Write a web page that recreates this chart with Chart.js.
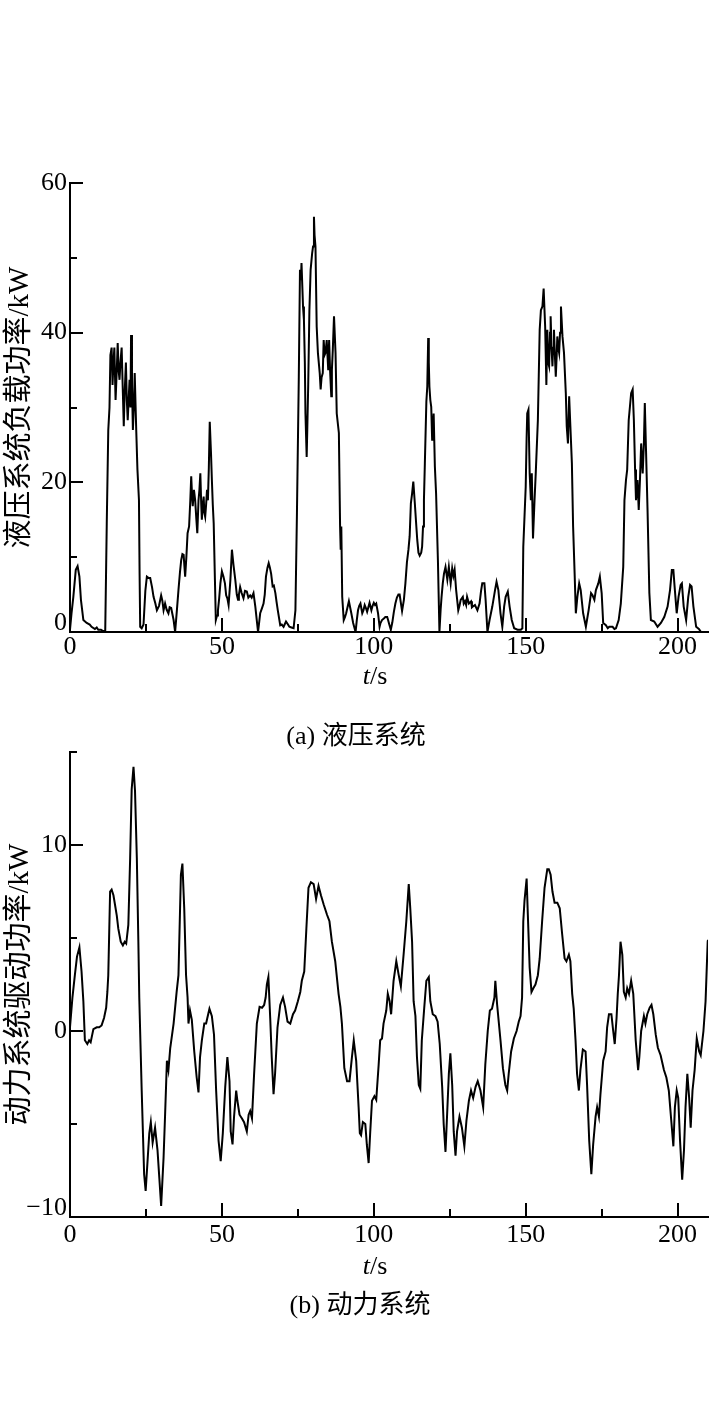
<!DOCTYPE html>
<html><head><meta charset="utf-8">
<script src="https://cdn.jsdelivr.net/npm/chart.js@4.4.1/dist/chart.umd.min.js"></script>
<style>
html,body{margin:0;padding:0;background:#fff;}
#wrap{position:relative;width:709px;height:1417px;overflow:hidden;background:#fff;}
canvas{position:absolute;left:0;}
.lbl{position:absolute;font-family:"Liberation Serif","Noto Sans CJK SC",serif;font-size:26px;color:#000;white-space:nowrap;transform:translate(-50%,-50%);line-height:1;}
</style></head>
<body><div id="wrap">
<canvas id="c1" width="709" height="700" style="top:0px"></canvas>
<canvas id="c2" width="709" height="590" style="top:700px"></canvas>
<div class="lbl" style="left:375px;top:676px"><i>t</i>/s</div>
<div class="lbl" style="left:356px;top:736px">(a) 液压系统</div>
<div class="lbl" style="left:375px;top:1266px"><i>t</i>/s</div>
<div class="lbl" style="left:360px;top:1305px">(b) 动力系统</div>
</div>
<script>
// ---- Data: (a) hydraulic system load power, kW ----
const hydT = [0,0.5,1.1,1.9,2.5,3.1,3.6,4.4,5.5,6.5,7.1,8.2,8.8,9.3,10.2,11,11.6,12.1,12.6,13.0,13.3,13.7,14.0,14.3,14.6,15.0,15.4,15.7,16.0,16.3,16.6,17.0,17.4,17.7,18.0,18.4,18.7,19.0,19.3,19.6,19.9,20.1,20.4,20.7,21.0,21.3,21.6,21.8,22.2,22.7,22.9,23.1,23.6,24.2,24.8,25.3,25.9,26.4,27.0,27.5,28.1,28.6,29.3,30,30.4,30.8,31.3,31.8,32.4,32.8,33.3,33.7,34.1,34.6,35.2,35.7,36.2,36.6,37.0,37.4,37.9,38.3,38.7,39.2,39.6,39.9,40.2,40.4,40.8,41.2,41.6,41.9,42.3,42.6,42.9,43.2,43.4,43.7,44.0,44.2,44.5,44.8,45.1,45.4,45.7,46.0,46.4,46.7,47.0,47.3,47.7,48.0,48.4,48.7,49.1,49.5,50,50.5,51.0,51.4,51.8,52.2,52.8,53.3,53.8,54.4,54.9,55.3,55.6,56,56.5,57.1,57.6,58.2,58.7,59.3,59.8,60.4,61,61.5,61.9,62.6,63.2,63.7,64.1,64.5,65.0,65.4,65.8,66.2,66.7,67.1,67.6,68,68.4,69.2,69.7,70.3,71.1,71.6,72.2,72.9,73.6,74.2,74.7,75.3,75.7,76.0,76.2,76.7,77.0,77.3,77.5,77.9,78.1,78.4,78.8,79.2,79.7,80,80.3,80.5,80.8,81.2,81.6,82.2,82.5,82.8,83.2,83.5,83.8,84.1,84.5,85,85.3,85.6,86,86.2,86.5,86.9,87.4,87.8,88.5,88.9,89.1,89.3,89.6,90.1,90.5,90.9,91.4,91.8,92.2,92.6,93.2,94,94.4,94.8,95.2,95.6,96.2,96.6,97,97.4,97.8,98.2,98.6,99.2,99.6,100,100.4,100.8,101.4,101.9,102.2,102.7,103.3,103.8,104.4,104.7,105.1,105.6,106.1,106.6,107.1,107.6,108.1,108.5,109.3,109.9,110.4,110.9,111.4,111.8,112.2,112.6,113,113.5,114,114.3,114.7,115.1,115.6,115.9,116.2,116.5,116.8,117.1,117.3,117.6,117.9,118.1,118.3,118.6,118.9,119.2,119.4,119.7,120.1,120.5,121.1,121.6,122.0,122.3,122.7,123.1,123.6,124.2,124.7,125.3,125.8,126.2,126.6,127.1,127.8,128.2,128.6,129.3,129.6,130,130.4,130.7,131.3,132,132.3,132.6,133.3,134.1,134.8,135.3,135.7,136.4,136.8,137.4,138.1,139,139.9,140.4,141,141.7,142.3,142.9,143.4,144.1,144.7,145.4,146.2,147.3,148.4,148.9,149.2,149.6,150,150.3,150.5,150.9,151.3,151.7,152,152.4,152.9,153.3,154,154.6,155,155.5,155.9,156.4,156.8,157.1,157.4,157.7,158.0,158.2,158.5,158.8,159.0,159.3,159.6,159.9,160.2,160.4,160.7,161,161.3,161.6,162.1,162.6,163.2,163.5,163.9,164.3,164.7,165.2,165.6,166.1,166.5,167,167.6,168.1,168.9,169.8,170.7,171.5,172,172.6,173.1,173.9,174.4,175,175.5,176.4,177,177.5,178.6,179.2,179.7,180.6,181.3,182.1,182.5,183,183.4,183.9,184.3,184.7,185.2,185.6,186,186.3,186.8,187.2,187.6,188,188.5,188.9,189.2,189.6,190.1,190.7,191.2,192.3,193.4,194.5,195.6,196.7,197.5,198.1,198.6,199,199.7,200.3,201,201.4,202,202.8,203.5,204.1,204.6,205.2,206.1,207,207.7,208.5];
const hydP = [0.3,2.5,4.7,8.3,8.8,7.4,4.3,1.6,1.2,1.0,0.7,0.4,0.6,0.3,0.3,0.1,0.2,14.5,27,30,37,38,33,36,38,31,35,38.6,35,33.7,36,38,32,27.5,32,36,31,28.3,31,33.7,30,39.7,33,27,30,34.6,30,27,21.7,17.6,8,0.7,0.5,1.0,5.5,7.4,7.2,7.2,6,4.7,3.8,2.9,3.5,4.9,4.2,2.9,3.8,3.0,2.5,3.3,3.2,2.4,1.6,0,3,5.6,8,9.6,10.4,10.3,7.4,10,13.2,14.1,17.6,20.8,18,16.8,19,17.6,15,13.2,17.6,19,21.2,17,15,17,18.1,16,15.4,17,19,17.6,22,28.1,24,20.3,17,14.5,7,1.6,2.2,2.9,4.5,6.5,8.1,7.4,6.5,4.9,4.5,3.6,7,11,9,7,5,4.3,5,6,5.2,4.5,5.5,5.4,4.6,4.9,4.6,5.2,3.4,1.5,0,2.5,3.2,3.8,5,7.4,8.6,9.2,8.6,7.8,6.1,6.2,5.2,4,2.9,0.9,1.0,0.7,1.4,1.1,0.7,0.6,0.5,2.9,15.9,33.7,48.4,47,49.3,43.5,41.7,36,29.2,23.4,27,32.8,43,48.4,50.6,51.5,55.5,53,51.5,40.8,37.3,34.6,32.4,34,34.6,39,37,37.3,39,35,39,35,31.5,35,37.7,42.2,37.3,29.2,26.6,14.1,11,14.1,4.7,1.6,2.0,2.5,3.4,4.1,3.3,2.5,1.2,0,1.6,2.9,3.5,3.8,2.5,2.9,3.6,3.2,2.7,3.3,3.9,2.9,3.5,3.9,3.6,3.8,2.5,0.7,1.2,1.6,1.8,2.0,2.0,1.6,1.0,0.3,1.3,2.7,3.8,4.6,5.0,5.0,2.8,4.3,6.5,9.3,11,12.8,17.2,18.5,20.1,17.2,14.1,12.3,10.6,10.2,10.6,11.4,14.1,17.6,22.5,27.5,30.8,32.8,39.3,36,32.8,31,30.1,25.7,27,29.2,22.1,18.5,9.6,0,3,4.7,6.5,7.8,8.7,7,8.7,6.5,8.5,7.5,8.3,5.6,2.9,3.5,4.3,4.7,3.8,4.1,3.6,4.7,3.8,4.1,3.3,3.4,3.6,2.9,3.8,5.5,6.5,6.5,4.3,0,1.6,3.4,5.6,6.7,5.6,2.5,0.7,3.4,4.7,5.4,3.4,1.6,0.5,0.3,0.3,0.5,11.4,15.4,19.4,26,29.2,29.7,21.2,17.6,21.2,12.5,17.6,21.2,28.3,40.4,43,43.5,45.9,40.8,33,40.4,36,35.5,40,42.2,38,35.5,38,40.4,37,34.1,37,39.5,38,37.3,40,43.5,39.5,37.3,31.9,27.5,25.2,31.5,27.5,22.5,14.1,7.8,2.5,4.7,6.5,5.6,2.5,0.7,2.9,5.2,4.9,4.3,5.6,6.5,7.4,5.2,1.2,0.9,0.5,0.7,0.7,0.4,0.5,1.6,3.8,8.7,17.6,20.3,21.7,28.3,30.1,31.9,32.4,28.3,21.7,17.6,20.3,16.3,20.3,25.2,21.2,25.2,30.6,24.3,16.3,5.2,1.6,1.4,0.7,1.2,2.0,3.4,5.6,8.3,8.3,6.1,2.5,4.7,6.3,6.5,3.4,1.6,4.7,6.3,6.1,3.4,0.7,0.4,0,0];

// ---- Data: (b) power system drive power, kW ----
const drvT = [0,0.8,1.6,2.3,3.1,3.8,4.4,4.9,5.7,6.3,6.8,7.7,8.8,9.6,10.4,11.2,11.9,12.3,12.6,13.2,13.7,14.3,14.8,15.4,15.9,16.7,17.4,18.0,18.5,19.2,19.8,20.3,20.9,21.4,22,22.5,22.8,23.6,24.4,24.9,25.6,26.1,26.6,27.2,28,28.8,29.4,30,30.8,31.3,31.9,32.4,33,34.1,35.1,35.7,36.5,37,37.6,38.2,38.7,39,39.5,40.1,40.9,41.7,42.3,42.8,43.4,44.2,44.8,45.2,45.9,46.7,47.4,48.1,48.9,49.6,50.3,51.1,51.8,52.5,52.9,53.5,54,54.7,55.1,55.8,56.6,57.3,58.2,58.8,59.3,59.9,60.6,61.5,62.4,63.2,63.9,64.4,64.8,65.3,65.9,66.4,67,67.5,68.3,69.2,70.1,70.8,71.6,72.5,73.4,74.1,75,75.8,76.3,77.1,77.8,78.5,79.3,80.2,81,81.8,82.6,83.5,84.6,85.4,86.2,87.3,88.4,89.0,89.5,90.3,91.2,92,92.8,93.4,94.2,95,95.4,95.8,96.4,97.2,97.7,98.3,98.8,99.4,100.2,100.8,101.6,102.1,102.7,103.2,104.1,104.6,105.2,105.7,106.5,107.4,108.2,108.9,109.8,110.7,111.5,112,112.6,113.1,113.7,114.2,114.8,115.3,115.8,116.6,117.3,118.1,118.6,119.4,120.3,121,121.7,122.5,123,123.6,124.1,124.7,125.2,125.8,126.3,126.9,127.4,128.2,129,129.8,130.5,131.3,132,132.7,133.5,134.2,135.1,136,136.7,137.5,138.2,138.9,139.7,140,140.6,141.7,142.5,143.3,143.9,144.4,145.2,146.1,147,147.7,148.3,148.8,149.2,149.6,150.3,150.7,151.3,151.9,152.5,153.2,154,154.6,155.4,156.2,157.1,157.6,158.2,158.8,159.5,160.4,161.2,162,162.8,163.4,164.2,164.7,165.3,165.8,166.4,166.9,167.5,168,168.8,169.7,170.2,170.9,171.6,172.2,173,173.5,174.1,174.6,175.5,176.3,176.8,177.4,178.2,178.8,179.3,179.9,180.3,180.7,181.2,181.8,182.3,182.9,183.4,184,184.7,185.4,186.2,187,187.4,188,188.9,189.4,190,190.8,191.4,192,192.8,193.5,194.4,195.5,196.3,197.1,197.9,198.6,199.1,199.7,200.2,200.8,201.5,202.1,202.6,203.2,203.8,204.3,204.9,205.6,206.3,207.1,207.6,208.5,209.2,209.9,210];
const drvP = [0.2,1.8,3,4,4.5,3.2,1.6,-0.5,-0.7,-0.5,-0.6,0.1,0.2,0.2,0.3,0.7,1.25,2.1,3,7.5,7.6,7.3,6.8,6.2,5.5,4.8,4.6,4.8,4.7,5.7,9.3,13,14.2,12.9,9.3,4.8,1.8,-3.2,-7.7,-8.6,-6.8,-5.5,-4.9,-6,-5.2,-6.4,-7.9,-9.4,-6.8,-4.5,-1.6,-2.1,-0.9,0.4,2.1,3,8.4,9,6.6,3,1.8,0.4,1.1,0.6,-1.1,-2.5,-3.3,-1.4,-0.5,0.4,0.4,0.7,1.2,0.8,-0.2,-3.2,-5.9,-7.0,-5.5,-3,-1.4,-2.7,-5.4,-6.1,-4.6,-3.2,-3.75,-4.5,-4.7,-4.9,-5.4,-4.5,-4.3,-4.7,-2.3,0.4,1.3,1.25,1.4,1.8,2.5,2.9,0.7,-1.4,-3.4,-2.3,0.2,1.4,1.8,1.3,0.5,0.4,0.9,1.1,1.6,2.1,2.7,3.2,5.5,7.7,8,7.9,7.1,7.8,7.3,6.8,6.25,5.9,4.8,3.75,2.0,1.3,0.4,-2,-2.7,-2.7,-1.4,-0.5,-1.6,-4.1,-5.5,-5.6,-4.9,-5,-6.1,-7.1,-5.5,-3.75,-3.5,-3.7,-1.8,-0.5,-0.4,0.4,1.1,2,1.6,0.9,2.7,3.75,3,2.4,4.1,5.9,7.9,6.6,4.8,1.6,0.8,-1.4,-2.9,-3.1,-0.5,1.25,2.7,2.9,1.6,0.9,0.8,0.5,-0.7,-3,-5,-6.5,-4.6,-2.3,-1.2,-2.9,-5.4,-6.7,-5.4,-4.6,-5.2,-6.2,-4.8,-3.75,-3.2,-3.6,-3,-2.7,-3.2,-4.1,-1.8,0,1.1,1.2,1.8,2.7,1.4,-0.5,-2,-2.9,-3.2,-2.3,-1.1,-0.4,0,0.5,0.8,1.8,5.9,7,8.2,6.25,3.4,2.1,2.3,2.5,3,3.9,5.9,7.7,8.7,8.7,8.4,7.5,6.9,6.9,6.6,5.2,3.9,3.75,4.1,3.75,2,1.2,-0.5,-2.3,-3.2,-2.1,-1,-1.1,-2.9,-5.9,-7.7,-6.1,-4.6,-4.1,-4.6,-3.4,-1.6,-1.1,0.2,0.9,0.9,0,-0.7,0.7,2,3,4.8,4.1,2.1,1.8,2.3,2,2.7,2,-0.5,-2.1,-1.4,0,0.8,0.4,0.9,1.25,1.4,0.9,-0.2,-0.9,-1.3,-2.1,-2.5,-3.2,-4.8,-6.2,-4.1,-3.2,-3.6,-5.9,-8,-6.4,-4.1,-2.3,-3.6,-5.2,-3.2,-2.1,-0.4,-1.1,-1.3,0,1.6,4.8,4.9];

// ---- Axis tick values ----
const xTicks = [0, 50, 100, 150, 200];
const xMinor = [25, 75, 125, 175];
const hydYTicks = [0, 20, 40, 60];
const hydYMinor = [10, 30, 50];
const drvYTicks = [-10, 0, 10];
const drvYMinor = [-5, 5, 15];

const FONT = '"Liberation Serif","Noto Sans CJK SC",serif';

const innerTicks = {
  id: 'innerTicks',
  afterDatasetsDraw(chart, args, o) {
    const ctx = chart.ctx, ca = chart.chartArea;
    const xs = chart.scales.x, ys = chart.scales.y;
    ctx.save();
    ctx.strokeStyle = '#000'; ctx.lineWidth = 2; ctx.lineCap = 'butt';
    const seg = (x1, y1, x2, y2) => { ctx.beginPath(); ctx.moveTo(x1, y1); ctx.lineTo(x2, y2); ctx.stroke(); };
    o.xMajor.forEach(v => { if (v === xs.min) return; const p = Math.round(xs.getPixelForValue(v)); seg(p, ca.bottom, p, ca.bottom - o.xMajorLen); });
    o.xMinor.forEach(v => { const p = Math.round(xs.getPixelForValue(v)); seg(p, ca.bottom, p, ca.bottom - o.xMinorLen); });
    o.yMajor.forEach(v => { if (v === ys.min) return; const p = Math.round(ys.getPixelForValue(v)); seg(ca.left, p, ca.left + o.yMajorLen, p); });
    o.yMinor.forEach(v => { const p = Math.round(ys.getPixelForValue(v)); seg(ca.left, p, ca.left + o.yMinorLen, p); });
    ctx.restore();
  }
};

function fmt(v) { return v < 0 ? '\u2212' + Math.abs(v) : String(v); }

function makeChart(id, T, P, cfg) {
  const pts = T.map((t, i) => ({ x: t, y: P[i] }));
  return new Chart(document.getElementById(id), {
    type: 'line',
    data: { datasets: [{ data: pts, borderColor: '#000', borderWidth: 2, pointRadius: 0, tension: 0, fill: false }] },
    options: {
      responsive: false, animation: false, events: [],
      layout: { padding: { top: cfg.padTop, left: 0, right: 1, bottom: 0 } },
      plugins: { legend: { display: false }, tooltip: { enabled: false },
        innerTicks: { xMajor: xTicks, xMinor: xMinor, yMajor: cfg.yTicks, yMinor: cfg.yMinor, xMajorLen: 14, xMinorLen: 8, yMajorLen: 13, yMinorLen: 7 } },
      scales: {
        x: {
          type: 'linear', min: 0, max: 210,
          grid: { display: false, drawTicks: false },
          border: { display: true, color: '#000', width: 2 },
          afterBuildTicks: s => { s.ticks = xTicks.map(v => ({ value: v })); },
          afterFit: s => { s.height = cfg.xHeight; },
          ticks: { color: '#000', padding: cfg.xPad, maxRotation: 0, autoSkip: false, font: { family: FONT, size: 26, lineHeight: 1 } }
        },
        y: {
          type: 'linear', min: cfg.yMin, max: cfg.yMax,
          grid: { display: false, drawTicks: false },
          border: { display: true, color: '#000', width: 2 },
          afterBuildTicks: s => { s.ticks = cfg.yTicks.map(v => ({ value: v })); },
          afterFit: s => { s.width = 70; },
          ticks: {
            color: '#000', padding: 3, autoSkip: false,
            // lowest label sits a little above the axis corner, as in the reference
            callback: v => (v === cfg.yMin ? [fmt(v), ''] : fmt(v)),
            font: c => ({ family: FONT, size: 26, lineHeight: (c.tick && c.tick.value === cfg.yMin) ? '18px' : 1 })
          },
          title: { display: true, text: cfg.yTitle, color: '#000', padding: { top: 6, bottom: 0 }, font: { family: FONT, size: 29, lineHeight: 1 } }
        }
      }
    },
    plugins: [innerTicks]
  });
}

makeChart('c1', hydT, hydP, { padTop: 183, xHeight: 68, xPad: 2, yMin: 0, yMax: 60, yTicks: hydYTicks, yMinor: hydYMinor, yTitle: '液压系统负载功率/kW' });
makeChart('c2', drvT, drvP, { padTop: 52, xHeight: 73, xPad: 5, yMin: -10, yMax: 15, yTicks: drvYTicks, yMinor: drvYMinor, yTitle: '动力系统驱动功率/kW' });
</script>
</body></html>
